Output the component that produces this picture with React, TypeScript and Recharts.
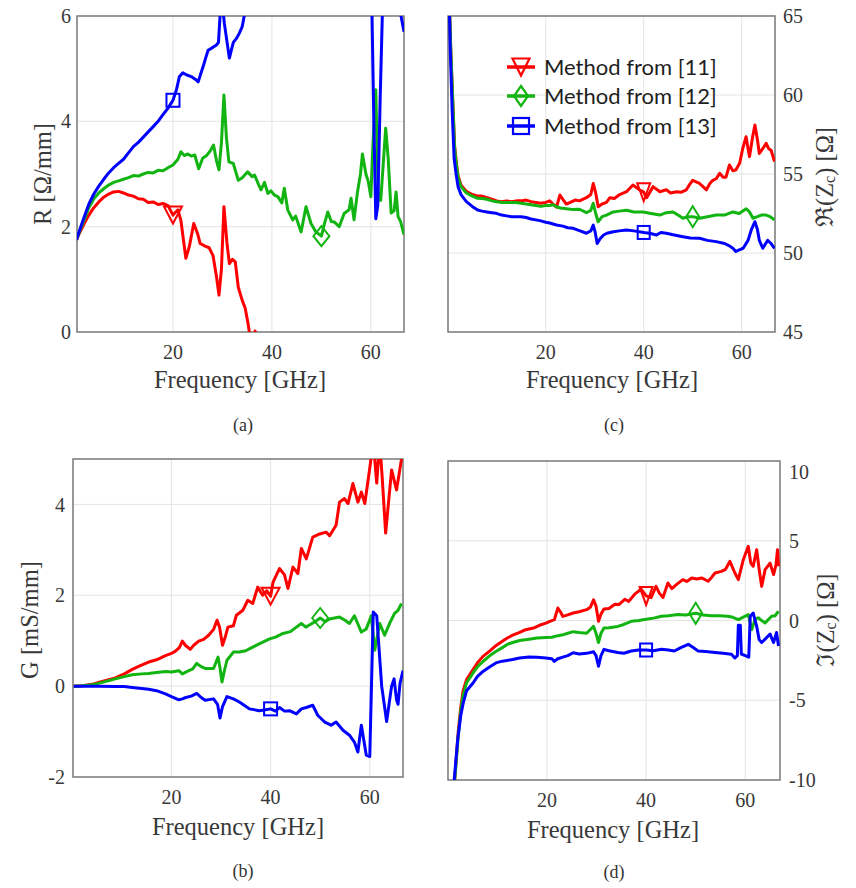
import React from 'react';
import { LineChart, Line, XAxis, YAxis, CartesianGrid, ReferenceArea, Legend } from 'recharts';

type Pt = [number, number];

// ---- axis ticks ----
const freqTicks = [20, 40, 60];
const rTicks = [0, 2, 4, 6];
const gTicks = [-2, 0, 2, 4];
const reTicks = [45, 50, 55, 60, 65];
const imTicks = [-10, -5, 0, 5, 10];

// ---- series names ----
const methodNames = ['Method from [11]', 'Method from [12]', 'Method from [13]'];

// ---- (a) R [Ohm/mm] ----
const rM11: Pt[] = [[0.5,1.75],[1,1.86],[2,2.05],[3,2.22],[4,2.36],[5,2.47],[6,2.56],[7,2.62],[8,2.66],[9,2.67],[10,2.64],[11,2.6],[12,2.58],[13,2.53],[14,2.52],[15,2.46],[16,2.47],[17,2.42],[18,2.44],[19,2.4],[20,2.22],[21,2.32],[21.6,2.12],[22.6,1.4],[23.3,1.62],[24.2,2.06],[25,1.86],[25.5,1.68],[26.5,1.63],[27.3,1.6],[28.1,1.45],[28.8,1.05],[29.3,0.7],[29.8,1.2],[30.3,2.38],[30.9,1.7],[31.4,1.3],[32,1.38],[32.6,1.33],[33.2,0.85],[34,0.6],[34.6,0.45],[35.2,0.15],[35.6,-0.1],[36.2,-0.4],[36.6,0.02],[37,-0.6],[37.5,-1.5]];
const rM12: Pt[] = [[0.5,1.75],[1,1.88],[2,2.12],[3,2.36],[4,2.53],[5,2.64],[6,2.72],[7,2.79],[8,2.84],[9,2.87],[10,2.9],[11,2.93],[12,2.97],[13,2.96],[14,3.0],[15,3.03],[16,3.02],[17,3.07],[18,3.06],[19,3.12],[20,3.17],[21,3.28],[21.6,3.42],[22.3,3.35],[23,3.38],[23.7,3.34],[24.4,3.36],[25.2,3.1],[26,3.3],[26.8,3.35],[27.6,3.45],[28.2,3.55],[28.8,3.25],[29.3,3.08],[29.8,3.6],[30.3,4.5],[30.8,3.7],[31.3,3.23],[32.2,3.2],[33.2,2.88],[34,2.93],[35.1,3.04],[36,2.95],[36.5,2.98],[37.3,2.8],[37.8,2.7],[38.5,2.84],[39.2,2.63],[39.8,2.68],[40.5,2.6],[41.2,2.57],[42,2.45],[42.5,2.73],[43.2,2.32],[44.2,2.13],[44.8,2.2],[45.9,1.9],[46.9,2.38],[47.9,2.06],[48.9,1.9],[50,1.82],[50.6,2.05],[51.3,2.28],[52,2.1],[52.6,2.09],[53.6,2.0],[54.6,2.25],[55.6,2.32],[56,2.54],[56.6,2.13],[57.3,2.66],[57.9,3.0],[58.3,3.38],[59,3.0],[59.5,2.85],[60,2.57],[60.4,3.5],[61,4.6],[61.5,2.5],[62,2.5],[63,3.87],[63.5,3.3],[64.1,2.26],[64.7,2.3],[65.1,2.66],[65.5,2.19],[66,2.1],[66.7,1.85]];
const rM13: Pt[] = [[0.5,1.75],[1,1.9],[2,2.17],[3,2.43],[4,2.62],[5,2.77],[6,2.9],[7,3.02],[8,3.12],[9,3.2],[10,3.28],[11,3.4],[12,3.52],[13,3.6],[14,3.7],[15,3.8],[16,3.9],[17,4.0],[18,4.13],[19,4.25],[20,4.4],[20.7,4.6],[21.3,4.85],[22,4.92],[22.8,4.88],[23.7,4.85],[24.5,4.8],[25.1,4.75],[25.6,4.9],[26.1,5.04],[26.6,5.2],[27.1,5.35],[28,5.4],[28.8,5.45],[29.2,5.5],[29.7,6.3],[30,6.2],[30.4,5.85],[31.4,5.2],[32.2,5.5],[32.8,5.57],[33.4,5.67],[34,5.8],[34.5,6.05],[35.5,6.6],[40,7.5],[50,8.5],[59.5,8.5],[60.2,6.2],[60.6,4.0],[61,2.15],[61.4,2.4],[61.9,4.5],[62.4,6.3],[63.5,8],[65.5,8],[66.1,6.0],[66.7,5.7]];

// ---- (b) G [mS/mm] ----
const gM11: Pt[] = [[0.3,0],[2,0.01],[4,0.04],[5.3,0.08],[7,0.13],[8.7,0.18],[10.5,0.27],[12.1,0.37],[13.5,0.44],[15.4,0.53],[17,0.58],[18.8,0.67],[20,0.72],[20.8,0.77],[21.6,0.85],[22.2,0.99],[22.8,0.9],[23.8,0.81],[24.5,0.9],[25.5,0.99],[26.5,1.03],[27.5,1.12],[28.5,1.25],[29.2,1.45],[29.7,1.3],[30.3,0.9],[30.9,1.1],[31.4,1.3],[32.5,1.33],[33.1,1.56],[34.4,1.67],[35.4,1.89],[36.4,1.82],[37.4,2.18],[38.4,2.0],[39.2,2.1],[40,1.98],[40.5,2.29],[41.8,2.59],[42.8,2.45],[43.5,2.15],[44.5,2.62],[45.5,2.48],[46.2,3.03],[47.2,2.8],[48.5,3.28],[49.9,3.35],[51.2,3.39],[51.9,3.31],[53.2,3.54],[53.9,4.05],[54.9,4.13],[55.6,4.02],[56.6,4.46],[57.6,4.05],[58.3,4.27],[59,4.02],[60,4.8],[60.7,5.4],[61.4,4.47],[62,5.4],[62.5,4.6],[63.2,3.37],[64.4,4.76],[65.4,4.32],[66.4,5.0],[66.7,5.2]];
const gM12: Pt[] = [[0.3,0],[2,0.01],[4,0.03],[5.3,0.06],[7,0.11],[8.7,0.16],[10.5,0.21],[12.1,0.25],[14,0.27],[15.4,0.28],[17,0.3],[18.8,0.32],[20,0.31],[21.5,0.34],[22.2,0.27],[23.5,0.34],[24.3,0.38],[25.1,0.5],[26,0.43],[26.8,0.39],[28.5,0.39],[29.4,0.64],[29.8,0.4],[30.2,0.09],[30.7,0.35],[31.2,0.57],[32.5,0.75],[33.7,0.75],[35,0.78],[35.7,0.82],[37.7,0.93],[39.8,1.04],[41,1.08],[42.5,1.16],[44,1.2],[45.2,1.3],[46.2,1.38],[47.1,1.3],[47.9,1.35],[49,1.42],[50,1.5],[51,1.42],[51.9,1.48],[53.9,1.52],[55,1.45],[55.9,1.38],[56.9,1.55],[58.3,1.19],[59.3,1.26],[60.3,1.55],[61,0.79],[62,1.38],[63,1.12],[64,1.38],[65,1.6],[65.7,1.67],[66.4,1.82]];
const gM13: Pt[] = [[0.3,0],[3,0],[5.3,0],[8.7,-0.01],[10.5,-0.01],[12.1,-0.03],[14,-0.05],[15.4,-0.07],[17,-0.1],[18.8,-0.17],[20,-0.23],[21.5,-0.3],[22.2,-0.28],[22.9,-0.25],[24,-0.22],[25.1,-0.16],[26,-0.25],[26.8,-0.31],[28.5,-0.28],[29.3,-0.4],[29.8,-0.7],[30.3,-0.45],[31.2,-0.23],[32.5,-0.28],[33.7,-0.35],[35.7,-0.5],[37.7,-0.54],[39,-0.52],[40,-0.5],[41,-0.55],[41.8,-0.47],[42.8,-0.55],[43.8,-0.54],[45.2,-0.61],[46.2,-0.5],[47.2,-0.47],[48.5,-0.42],[49.5,-0.64],[50.9,-0.79],[52.2,-0.86],[53.2,-0.79],[54.6,-0.97],[55.9,-1.08],[56.9,-1.23],[57.6,-1.45],[58.3,-0.86],[59.3,-1.52],[60,-1.55],[60.7,1.63],[61.4,1.55],[62.4,0.0],[63.4,-0.78],[64.4,0.0],[64.9,0.16],[65.4,-0.3],[65.7,-0.4],[66.1,0.06],[66.7,0.34]];

// ---- (c) Re(Zc) [Ohm] ----
const reM11: Pt[] = [[0.3,66],[0.6,63],[1.1,59],[1.4,56.8],[1.8,55.6],[2.1,54.9],[2.7,54.3],[3.8,53.9],[5,53.7],[6.1,53.6],[7,53.6],[8,53.5],[9,53.4],[10,53.3],[11,53.25],[12,53.3],[13,53.25],[14,53.3],[15,53.3],[16,53.35],[17,53.25],[18,53.2],[19,53.15],[20,53.2],[20.8,53.3],[21.5,53.1],[22.2,52.9],[22.9,53.67],[23.5,53.4],[24.2,53.1],[25,53.2],[26,53.35],[26.9,53.3],[28.3,53.5],[29.2,53.7],[29.7,54.4],[30.2,53.8],[30.7,52.93],[31.5,53.1],[32.4,53.2],[33.1,53.5],[34,53.45],[35.1,53.7],[36.5,53.88],[37.8,54.3],[39.2,53.99],[40,53.85],[40.6,53.5],[41.9,54.2],[43.3,53.88],[44.6,54.0],[45.5,53.8],[46.7,53.88],[47.7,53.85],[48.7,54.0],[49.5,54.4],[50,54.6],[50.7,54.5],[51.4,54.4],[52.1,54.2],[52.8,54.0],[53.5,54.4],[54.1,54.6],[54.8,54.7],[55.5,55.04],[56.2,54.8],[56.8,54.8],[57.5,55.57],[58.2,55.2],[58.8,55.26],[59.6,55.7],[60.2,56.6],[60.9,57.36],[61.3,56.6],[61.6,56.1],[62.2,57.3],[62.7,58.1],[63.2,57.2],[63.6,56.3],[64.3,56.6],[65,56.94],[65.5,56.6],[66,56.5],[66.7,55.78]];
const reM12: Pt[] = [[0.3,66],[0.6,63],[1.1,59],[1.4,56.6],[1.8,55.5],[2.1,54.8],[2.7,54.2],[3.8,53.8],[5,53.6],[6.1,53.46],[7,53.45],[8,53.4],[9,53.3],[10,53.25],[11,53.2],[12,53.2],[13,53.2],[14,53.2],[15,53.15],[16,53.1],[17,53.05],[18,53.0],[19,52.95],[20,53.0],[20.8,53.0],[21.5,53.05],[22.2,52.93],[23,52.85],[24.2,52.8],[25.5,52.75],[26.9,52.77],[28.3,52.55],[29.2,52.7],[29.7,53.15],[30.2,52.5],[30.7,51.98],[31.5,52.3],[32.4,52.4],[33.8,52.6],[35,52.65],[36.5,52.7],[38,52.6],[39.9,52.6],[41.5,52.5],[43.3,52.4],[44.6,52.55],[46,52.6],[47,52.4],[48,52.2],[49,52.3],[50,52.3],[51.4,52.2],[53,52.3],[54.8,52.4],[56.5,52.4],[58.2,52.6],[59.5,52.5],[60.9,52.8],[61.6,52.6],[62.3,52.2],[63.2,52.3],[64,52.4],[65,52.4],[65.8,52.3],[66.7,52.1]];
const reM13: Pt[] = [[0.3,66],[0.5,63],[0.9,59],[1.3,56],[1.7,55],[2.1,54.2],[2.7,53.7],[3.8,53.25],[5,52.95],[6.1,52.72],[7,52.65],[8,52.6],[9,52.55],[9.9,52.51],[11,52.4],[12,52.35],[13,52.3],[14,52.3],[15,52.3],[16,52.25],[17,52.15],[18.8,52.05],[20,51.95],[20.8,51.9],[22.2,51.77],[23.5,51.7],[24.5,51.6],[25.6,51.56],[27,51.4],[28.3,51.25],[29.2,51.4],[29.7,51.77],[30.1,51.3],[30.5,50.6],[31.1,50.9],[31.8,51.14],[32.5,51.25],[33.8,51.35],[35,51.4],[36.5,51.45],[38,51.4],[40,51.3],[41.2,51.25],[42.6,51.14],[43.5,51.3],[44.6,51.25],[46,51.15],[48,51.03],[49.5,50.95],[51.4,50.93],[53,50.8],[54.8,50.72],[56.5,50.6],[57.5,50.45],[58.2,50.3],[58.8,50.1],[59.5,50.2],[60.3,50.3],[61.3,50.8],[62,51.5],[62.7,51.98],[63.2,51.5],[63.6,50.8],[64.3,50.3],[65.3,50.8],[66,50.6],[66.7,50.3]];

// ---- (d) Im(Zc) [Ohm] ----
const imM11: Pt[] = [[0.8,-16],[1.4,-10],[2.1,-7.0],[2.6,-5.5],[3.1,-4.4],[3.8,-3.7],[5.1,-3.08],[6,-2.65],[7.1,-2.25],[8.5,-1.9],[9.7,-1.58],[11,-1.3],[12,-1.1],[13.1,-0.92],[14.5,-0.75],[15.5,-0.6],[16.4,-0.53],[17.5,-0.45],[18.5,-0.3],[19.8,-0.16],[20.6,-0.05],[21.5,0.05],[22.2,0.78],[22.8,0.5],[23.2,0.26],[24.2,0.35],[25.3,0.47],[26.5,0.55],[28,0.68],[28.8,0.85],[29.4,1.3],[29.9,0.9],[30.4,-0.05],[30.9,0.4],[31.5,0.72],[32.5,0.75],[33.7,1.02],[34.5,1.0],[35.7,1.33],[36.5,1.2],[37.7,1.65],[39,1.96],[40,1.54],[41,1.44],[42,2.14],[42.7,1.7],[43.4,1.44],[44.4,2.35],[45.2,2.0],[46.1,2.25],[47.4,2.56],[48.2,2.45],[49.2,2.67],[50.2,2.6],[51.2,2.67],[52.5,2.46],[53.2,2.7],[53.9,2.98],[55.2,3.08],[56,3.2],[56.9,3.71],[57.9,2.98],[58.6,2.56],[59.6,3.81],[60.6,4.65],[61.1,3.6],[61.6,3.4],[62.3,4.44],[62.8,3.2],[63.3,2.14],[64,3.19],[65,3.6],[65.7,2.88],[66.2,3.5],[66.5,4.44],[66.7,3.4]];
const imM12: Pt[] = [[0.8,-16],[1.4,-10],[2.1,-7.3],[2.6,-5.7],[3.1,-4.7],[3.8,-3.9],[5.1,-3.29],[6,-2.9],[7.1,-2.57],[8.5,-2.2],[9.7,-1.94],[11,-1.7],[12,-1.5],[13.1,-1.38],[14.5,-1.25],[16.4,-1.17],[18,-1.1],[19.8,-1.07],[21,-1.05],[22.2,-0.95],[23.2,-0.9],[24.2,-0.8],[25.3,-0.7],[26.5,-0.75],[28,-0.8],[29.4,-0.37],[29.9,-0.8],[30.4,-1.38],[30.9,-0.8],[31.5,-0.47],[32.5,-0.45],[34.3,-0.37],[35.5,-0.25],[37,-0.05],[38.5,0.0],[39.7,0.06],[41.5,0.15],[43.1,0.27],[44.5,0.3],[46.4,0.37],[48,0.35],[50,0.45],[51.5,0.35],[53.2,0.3],[54.8,0.3],[56.5,0.27],[57.5,0.2],[58.6,0.06],[59.5,0.2],[60.6,0.37],[61.3,-0.57],[62,0.1],[62.6,0.17],[63.3,0.0],[64,-0.15],[65.3,0.27],[66,0.3],[66.7,0.58]];
const imM13: Pt[] = [[0.6,-16],[1.3,-10],[2.0,-7.5],[2.6,-6.0],[3.1,-5.2],[3.8,-4.4],[5.1,-3.92],[6,-3.5],[7.1,-3.19],[8.5,-2.9],[9.7,-2.66],[11,-2.55],[13.1,-2.45],[14.5,-2.35],[16.4,-2.29],[18,-2.3],[19.8,-2.35],[21,-2.4],[21.5,-2.56],[22.2,-2.4],[23.2,-2.3],[24.2,-2.2],[25.3,-2.02],[26.5,-2.1],[28,-2.06],[29.4,-1.96],[29.9,-2.2],[30.4,-2.87],[30.9,-2.2],[31.5,-1.81],[32.5,-1.9],[34.3,-2.01],[35.5,-2.05],[37,-1.91],[38.5,-1.85],[40,-1.85],[41.5,-1.9],[43.1,-1.8],[44.5,-1.85],[45.7,-1.91],[47,-1.7],[48.5,-1.49],[49.5,-1.7],[50.5,-1.91],[52,-1.95],[53.9,-2.01],[55.5,-2.05],[57.2,-2.12],[57.9,-2.35],[58.4,-2.2],[58.6,-0.3],[59.0,-0.3],[59.2,-2.1],[60,-2.2],[60.7,-2.3],[61,0.27],[61.6,0.47],[62.3,-0.37],[62.8,-1.2],[63.3,-1.38],[64,-1.17],[65,-0.85],[65.7,-1.38],[66.3,-0.75],[66.7,-1.6]];

// marker position (GHz) of each method in each panel
const markR = [20, 50, 20];
const markOther = [40, 50, 40];

type MarkerKind = 'tri' | 'dia' | 'sq';
const STYLE: { color: string; marker: MarkerKind }[] = [
  { color: '#ff0000', marker: 'tri' },
  { color: '#12b412', marker: 'dia' },
  { color: '#0000ff', marker: 'sq' },
];

const SERIF = "'Liberation Serif', 'DejaVu Serif', serif";
const SANS = "Lato, 'Open Sans', sans-serif";
const TEXT = '#383838';
const TITLE_SIZE = 24.5;
const TICK_SIZE = 20;

type MSize = { tri: [number, number]; dia: [number, number]; sq: [number, number] };
const wideMarkers: MSize = { tri: [18, 17], dia: [16, 20], sq: [13, 13] };
const narrowMarkers: MSize = { tri: [13, 18], dia: [13, 21], sq: [12, 13] };
const legendMarkers: MSize = { tri: [17, 17], dia: [14, 20], sq: [16, 16] };

function MarkerShape({ kind, cx, cy, color, size, sw = 2 }: { kind: MarkerKind; cx: number; cy: number; color: string; size: MSize; sw?: number }) {
  const [w, h] = size[kind];
  if (kind === 'tri') {
    return <path d={`M${cx - w / 2},${cy - h / 2}L${cx + w / 2},${cy - h / 2}L${cx},${cy + h / 2}Z`} fill="none" stroke={color} strokeWidth={sw} />;
  }
  if (kind === 'dia') {
    return <path d={`M${cx},${cy - h / 2}L${cx + w / 2},${cy}L${cx},${cy + h / 2}L${cx - w / 2},${cy}Z`} fill="none" stroke={color} strokeWidth={sw} />;
  }
  return <rect x={cx - w / 2} y={cy - h / 2} width={w} height={h} fill="none" stroke={color} strokeWidth={sw} />;
}

const rows = (pts: Pt[]) => pts.map(([f, v]) => ({ f, v }));

const makeDot = (markF: number, kind: MarkerKind, color: string, size: MSize) => (props: any) => {
  const { cx, cy, payload, index } = props;
  if (!payload || payload.f !== markF || cx == null || cy == null) return <g key={`dot-${index}`} />;
  return (
    <g key={`dot-${index}`}>
      <MarkerShape kind={kind} cx={cx} cy={cy} color={color} size={size} />
    </g>
  );
};

function VTitle({ x, y, children }: { x: number; y: number; children: React.ReactNode }) {
  return (
    <text x={x} y={y} transform={`rotate(-90 ${x} ${y})`} textAnchor="middle" dominantBaseline="central" style={{ fontFamily: SERIF, fontSize: TITLE_SIZE, fill: TEXT }}>
      {children}
    </text>
  );
}

function HTitle({ x, y, children }: { x: number; y: number; children: React.ReactNode }) {
  return (
    <text x={x} y={y} textAnchor="middle" style={{ fontFamily: SERIF, fontSize: TITLE_SIZE, fill: TEXT }}>
      {children}
    </text>
  );
}

function LegendBox() {
  return (
    <div style={{ fontFamily: SANS, fontSize: 22, color: '#1e1e1e', lineHeight: 1 }}>
      {methodNames.map((name, i) => (
        <div key={name} style={{ display: 'flex', alignItems: 'center', height: 29.5 }}>
          <svg width={34} height={26} style={{ display: 'block' }}>
            <line x1={2} y1={13} x2={30} y2={13} stroke={STYLE[i].color} strokeWidth={3.5} />
            <MarkerShape kind={STYLE[i].marker} cx={16} cy={13} color={STYLE[i].color} size={legendMarkers} sw={2.2} />
          </svg>
          <span style={{ marginLeft: 5, whiteSpace: 'nowrap', fontFamily: SANS }}>{name}</span>
        </div>
      ))}
    </div>
  );
}

type PanelProps = {
  left: number;
  top: number;
  width: number;
  height: number;
  margin: { top: number; right: number; bottom: number; left: number };
  yWidth: number;
  xHeight: number;
  yRight?: boolean;
  xDomain: [number, number];
  yDomain: [number, number];
  yTicks: number[];
  series: Pt[][];
  marks: number[];
  markerSize: MSize;
  yTitle: React.ReactNode;
  yTitlePos: [number, number];
  xTitlePos: [number, number];
  yTickMargin: number;
  withLegend?: boolean;
};

function Panel(p: PanelProps) {
  const tickStyle = { fontSize: TICK_SIZE, fill: TEXT, style: { fontFamily: SERIF } };
  return (
    <div style={{ position: 'absolute', left: p.left, top: p.top, width: p.width, height: p.height, overflow: 'hidden', fontFamily: SERIF }}>
      <LineChart width={p.width} height={p.height} margin={p.margin} style={{ fontFamily: SERIF }}>
        <CartesianGrid stroke="#e4e4e4" strokeWidth={1} />
        <XAxis
          type="number"
          dataKey="f"
          domain={p.xDomain}
          ticks={freqTicks}
          allowDataOverflow
          height={p.xHeight}
          axisLine={false}
          tickLine={false}
          tickSize={0}
          tickMargin={13}
          tick={tickStyle}
          label={{ content: () => <HTitle x={p.xTitlePos[0]} y={p.xTitlePos[1]}>Frequency [GHz]</HTitle> }}
        />
        <YAxis
          type="number"
          domain={p.yDomain}
          ticks={p.yTicks}
          allowDataOverflow
          orientation={p.yRight ? 'right' : 'left'}
          width={p.yWidth}
          axisLine={false}
          tickLine={false}
          tickSize={0}
          tickMargin={p.yTickMargin}
          tick={tickStyle}
          label={{ content: () => <VTitle x={p.yTitlePos[0]} y={p.yTitlePos[1]}>{p.yTitle}</VTitle> }}
        />
        <ReferenceArea x1={p.xDomain[0]} x2={p.xDomain[1]} y1={p.yDomain[0]} y2={p.yDomain[1]} fill="none" stroke="#7c7c7c" strokeWidth={1.5} />
        {p.series.map((pts, i) => (
          <Line
            key={methodNames[i]}
            name={methodNames[i]}
            data={rows(pts)}
            dataKey="v"
            type="linear"
            stroke={STYLE[i].color}
            strokeWidth={3}
            strokeLinejoin="round"
            dot={makeDot(p.marks[i], STYLE[i].marker, STYLE[i].color, p.markerSize)}
            activeDot={false}
            isAnimationActive={false}
          />
        ))}
        {p.withLegend && (
          <Legend
            layout="vertical"
            align="center"
            verticalAlign="middle"
            wrapperStyle={{ left: 85, top: 52, width: 'auto', height: 'auto' }}
            content={() => <LegendBox />}
          />
        )}
      </LineChart>
    </div>
  );
}

function Caption({ x, y, text }: { x: number; y: number; text: string }) {
  return (
    <div style={{ position: 'absolute', left: x - 30, top: y - 11, width: 60, textAlign: 'center', fontFamily: SERIF, fontSize: 18, color: '#333', lineHeight: '22px' }}>
      {text}
    </div>
  );
}

export default function App() {
  return (
    <div style={{ position: 'absolute', left: 0, top: 0, width: 856, height: 888, background: '#fff', fontFamily: SERIF }}>
      <Panel
        left={0} top={0} width={420} height={440}
        margin={{ top: 16, right: 16, bottom: 0, left: 0 }}
        yWidth={77} xHeight={108}
        xDomain={[0.6, 66.7]} yDomain={[0, 6]} yTicks={rTicks}
        series={[rM11, rM12, rM13]} marks={markR} markerSize={wideMarkers}
        yTitle="R [Ω/mm]" yTitlePos={[42, 174]} xTitlePos={[240, 388]}
        yTickMargin={6}
      />
      <Panel
        left={420} top={0} width={436} height={440}
        margin={{ top: 16, right: 0, bottom: 0, left: 28 }}
        yWidth={81} xHeight={108} yRight
        xDomain={[0.05, 66.8]} yDomain={[45, 65]} yTicks={reTicks}
        series={[reM11, reM12, reM13]} marks={markOther} markerSize={narrowMarkers}
        yTitle={<>ℜ(Z<tspan fontSize={16} dy={5}>c</tspan><tspan dy={-5}>) [Ω]</tspan></>}
        yTitlePos={[404, 177]} xTitlePos={[192, 388]}
        yTickMargin={8}
        withLegend
      />
      <Panel
        left={0} top={440} width={420} height={448}
        margin={{ top: 19, right: 17, bottom: 0, left: 0 }}
        yWidth={73} xHeight={111}
        xDomain={[0.15, 66.7]} yDomain={[-2, 5]} yTicks={gTicks}
        series={[gM11, gM12, gM13]} marks={markOther} markerSize={wideMarkers}
        yTitle="G [mS/mm]" yTitlePos={[29, 180]} xTitlePos={[238, 395]}
        yTickMargin={8}
      />
      <Panel
        left={420} top={460} width={436} height={428}
        margin={{ top: 1, right: 0, bottom: 0, left: 28 }}
        yWidth={76} xHeight={108} yRight
        xDomain={[0.05, 67]} yDomain={[-10, 10]} yTicks={imTicks}
        series={[imM11, imM12, imM13]} marks={markOther} markerSize={narrowMarkers}
        yTitle={<>ℑ(Z<tspan fontSize={16} dy={5}>c</tspan><tspan dy={-5}>) [Ω]</tspan></>}
        yTitlePos={[405, 160]} xTitlePos={[193, 378]}
        yTickMargin={9}
      />
      <Caption x={243} y={425} text="(a)" />
      <Caption x={614} y={425} text="(c)" />
      <Caption x={243} y={871} text="(b)" />
      <Caption x={614} y={872} text="(d)" />
    </div>
  );
}
